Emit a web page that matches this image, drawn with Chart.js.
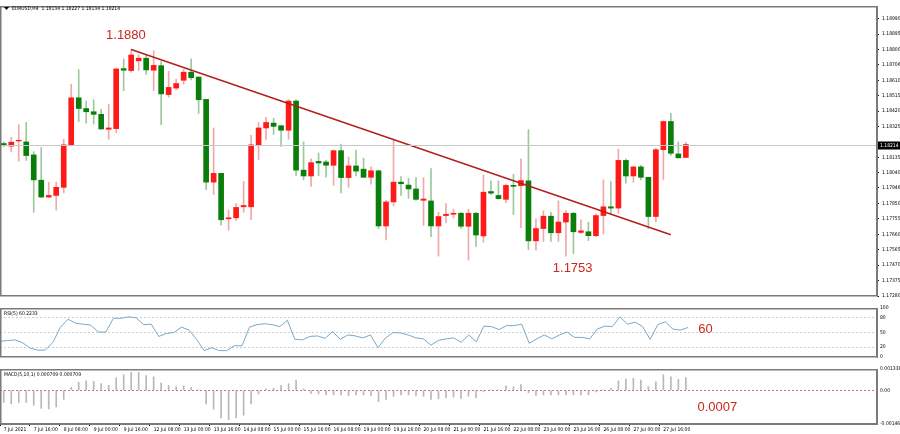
<!DOCTYPE html>
<html>
<head>
<meta charset="utf-8">
<script src="https://cdn.jsdelivr.net/npm/chart.js@4"></script>
<style>
  html, body { margin: 0; padding: 0; background: #fff; }
  #wrap { position: relative; width: 900px; height: 434px; }
  .pane { position: absolute; left: 0; width: 900px; }
</style>
</head>
<body>
<div id="wrap">
  <div class="pane" style="top:0;height:302px"><canvas id="main"></canvas></div>
  <div class="pane" style="top:302px;height:61px"><canvas id="rsi"></canvas></div>
  <div class="pane" style="top:363px;height:71px"><canvas id="macd"></canvas></div>
</div>
<script>
// EURUSD H4 candles
const openP = [1.18220,1.18204,1.18236,1.18230,1.18150,1.17994,1.17890,1.17900,1.17950,1.18212,
  1.18502,1.18436,1.18416,1.18400,1.18308,1.18312,1.18682,1.18670,1.18730,1.18746,
  1.18672,1.18700,1.18522,1.18562,1.18610,1.18660,1.18630,1.18492,1.17982,1.18036,
  1.17756,1.17762,1.17830,1.17830,1.18212,1.18316,1.18346,1.18330,1.18302,1.18482,
  1.18056,1.18020,1.18110,1.18106,1.18086,1.18176,1.18010,1.18082,1.18062,1.18012,
  1.18052,1.17712,1.17860,1.17982,1.17964,1.17940,1.17870,1.17866,1.17712,1.17776,
  1.17784,1.17790,1.17710,1.17790,1.17650,1.17924,1.17900,1.17876,1.17962,1.17960,
  1.17990,1.17620,1.17696,1.17772,1.17670,1.17736,1.17790,1.17672,1.17676,1.17652,
  1.17776,1.17830,1.17822,1.18116,1.18020,1.18076,1.18012,1.17770,1.18182,1.18356,
  1.18156,1.18134];
const highP = [1.18230,1.18258,1.18336,1.18350,1.18170,1.18196,1.17982,1.17982,1.18246,1.18586,
  1.18676,1.18482,1.18490,1.18432,1.18462,1.18684,1.18742,1.18800,1.18766,1.18766,
  1.18792,1.18726,1.18666,1.18616,1.18676,1.18742,1.18630,1.18492,1.18316,1.18036,
  1.17810,1.17850,1.17986,1.18270,1.18350,1.18382,1.18376,1.18330,1.18490,1.18490,
  1.18230,1.18126,1.18162,1.18116,1.18180,1.18216,1.18136,1.18180,1.18130,1.18076,
  1.18056,1.17870,1.18246,1.18016,1.18006,1.18010,1.18010,1.18066,1.17796,1.17850,
  1.17816,1.17796,1.17816,1.17796,1.18026,1.17990,1.17990,1.17970,1.18030,1.18126,
  1.18306,1.17756,1.17806,1.17796,1.17866,1.17806,1.17796,1.17750,1.17736,1.17786,
  1.17996,1.17986,1.18186,1.18126,1.18080,1.18086,1.18012,1.18190,1.18360,1.18406,
  1.18230,1.18227];
const lowP = [1.18200,1.18168,1.18110,1.18116,1.17796,1.17888,1.17886,1.17810,1.17916,1.18210,
  1.18356,1.18346,1.18340,1.18308,1.18246,1.18286,1.18546,1.18660,1.18670,1.18646,
  1.18546,1.18336,1.18506,1.18550,1.18586,1.18612,1.18406,1.17936,1.17906,1.17716,
  1.17686,1.17746,1.17796,1.17750,1.18122,1.18246,1.18276,1.18202,1.18246,1.18022,
  1.17996,1.17956,1.18022,1.18012,1.17962,1.17916,1.17950,1.18020,1.18010,1.17970,
  1.17696,1.17626,1.17836,1.17900,1.17882,1.17870,1.17716,1.17646,1.17526,1.17732,
  1.17762,1.17696,1.17502,1.17586,1.17612,1.17906,1.17876,1.17856,1.17782,1.17702,
  1.17566,1.17562,1.17616,1.17616,1.17616,1.17526,1.17542,1.17666,1.17622,1.17646,
  1.17662,1.17786,1.17790,1.17976,1.17982,1.17996,1.17696,1.17736,1.17996,1.18146,
  1.18130,1.18134];
const closeP = [1.18210,1.18228,1.18240,1.18146,1.17996,1.17890,1.17900,1.17950,1.18212,1.18502,
  1.18436,1.18416,1.18400,1.18310,1.18316,1.18680,1.18672,1.18766,1.18746,1.18674,
  1.18702,1.18526,1.18566,1.18590,1.18660,1.18626,1.18490,1.17982,1.18036,1.17750,
  1.17762,1.17826,1.17838,1.18212,1.18316,1.18350,1.18326,1.18302,1.18482,1.18056,
  1.18020,1.18102,1.18100,1.18086,1.18176,1.18010,1.18082,1.18050,1.18012,1.18052,
  1.17712,1.17860,1.17982,1.17972,1.17940,1.17876,1.17878,1.17712,1.17770,1.17784,
  1.17790,1.17710,1.17790,1.17656,1.17920,1.17914,1.17880,1.17962,1.17956,1.17992,
  1.17620,1.17696,1.17772,1.17670,1.17736,1.17790,1.17676,1.17682,1.17652,1.17776,
  1.17830,1.17822,1.18116,1.18020,1.18076,1.18012,1.17770,1.18182,1.18356,1.18160,
  1.18132,1.18214];

// RSI(5)
const rsi = [32,33.5,35,29,18,14,14,30,61,77,69,67,65,51,51,79,79,82,80,66,
  67,42,48,50,61,55,36,13,19,13,13,23,23,61,66,68,66,62,75,36,
  35,42,43,38,52,36,45,43,39,45,19,39,50,49,45,39,37,24,34,37,
  39,30,45,31,63,62,56,64,64,67,28,37,45,37,45,51,40,40,37,57,
  63,62,82,67,71,62,36,66,72,57,55,60.2233];

// MACD(5,10,1)
const macd = [-0.00067,-0.00075,-0.00067,-0.00067,-0.00083,-0.00100,-0.00103,-0.00092,-0.00050,0.00017,
  0.00045,0.00053,0.00050,0.00038,0.00028,0.00070,0.00087,0.00100,0.00100,0.00083,
  0.00075,0.00042,0.00028,0.00020,0.00025,0.00017,0.00003,-0.00075,-0.00105,-0.00153,
  -0.00163,-0.00153,-0.00138,-0.00075,-0.00020,0.00008,0.00012,0.00028,0.00037,0.00058,
  0.00008,-0.00017,-0.00020,-0.00025,-0.00025,-0.00025,-0.00030,-0.00025,-0.00025,-0.00030,
  -0.00062,-0.00050,-0.00033,-0.00025,-0.00025,-0.00030,-0.00033,-0.00050,-0.00047,-0.00042,
  -0.00037,-0.00045,-0.00033,-0.00042,-0.00008,0.00003,0.00003,0.00025,0.00020,0.00033,
  -0.00013,-0.00028,-0.00025,-0.00025,-0.00025,-0.00025,-0.00025,-0.00025,-0.00025,-0.00008,
  0.00003,0.00013,0.00053,0.00063,0.00067,0.00058,0.00020,0.00047,0.00087,0.00075,
  0.00062,0.000709];

// one label every 4 bars
const timeLabels = ["7 Jul 2021","7 Jul 16:00","8 Jul 08:00","9 Jul 00:00","9 Jul 16:00",
  "12 Jul 08:00","13 Jul 00:00","13 Jul 16:00","14 Jul 08:00","15 Jul 00:00","15 Jul 16:00",
  "16 Jul 08:00","19 Jul 00:00","19 Jul 16:00","20 Jul 08:00","21 Jul 00:00","21 Jul 16:00",
  "22 Jul 08:00","23 Jul 00:00","23 Jul 16:00","26 Jul 08:00","27 Jul 00:00","27 Jul 16:00"];

const priceTicks = [1.18990,1.18895,1.18800,1.18706,1.18610,1.18515,1.18420,1.18325,
  1.18135,1.18040,1.17946,1.17850,1.17755,1.17660,1.17565,1.17470,1.17375,1.17280];
const rsiLevels = [0, 20, 50, 80, 100];
const macdTicks = ['0.001338', '0.00', '-0.00146'];

// trend line from the 1.1880 top
const trendIdx = [17, 89];
const trendVal = [1.18800, 1.17658];

const SLOTS = 117;          // chart leaves empty space on the right
const FONT = "'DejaVu Sans Condensed', 'DejaVu Sans', sans-serif";
const RED_TXT = '#c8281e';

const n = openP.length;
const cats = [];
for (let i = 0; i < SLOTS; i++) cats.push(i < n && i % 4 === 0 ? timeLabels[i / 4] : '');
const pad = arr => arr.concat(new Array(SLOTS - arr.length).fill(null));

const up = closeP.map((c, i) => c >= openP[i]);
const bodies = pad(openP.map((o, i) => [o, closeP[i]]));
const wicks = pad(lowP.map((l, i) => [l, highP[i]]));
const trend = new Array(SLOTS).fill(null);
trendIdx.forEach((k, j) => trend[k] = trendVal[j]);

function fixWidth(scale) { scale.width = 23; }

const overlay = {
  id: 'overlay',
  afterDraw(chart, args, opts) {
    const ctx = chart.ctx, a = chart.chartArea;
    const xs = chart.scales.x, ys = chart.scales.y;
    ctx.save();
    if (opts.priceLine != null) {
      const y = Math.round(ys.getPixelForValue(opts.priceLine)) + 0.5;
      ctx.strokeStyle = '#c8c8c8'; ctx.lineWidth = 1;
      ctx.beginPath(); ctx.moveTo(a.left, y); ctx.lineTo(a.right, y); ctx.stroke();
      ctx.fillStyle = '#000'; ctx.fillRect(a.right + 1, y - 4, 22, 8);
      ctx.fillStyle = '#fff'; ctx.font = '5px ' + FONT;
      ctx.textBaseline = 'middle'; ctx.textAlign = 'left';
      ctx.fillText(opts.priceLine.toFixed(5), a.right + 3, y);
    }
    ctx.strokeStyle = '#7a7a7a'; ctx.lineWidth = 1.5;
    ctx.strokeRect(a.left + 0.75, a.top + 0.75, a.right - a.left - 1, a.bottom - a.top - 1);
    (opts.texts || []).forEach(t => {
      ctx.fillStyle = RED_TXT; ctx.font = '13px "Liberation Sans", Arial, sans-serif';
      ctx.textAlign = 'center'; ctx.textBaseline = 'middle';
      ctx.fillText(t.text, xs.getPixelForValue(t.i), ys.getPixelForValue(t.v));
    });
    if (opts.header) {
      ctx.fillStyle = '#000';
      ctx.beginPath(); ctx.moveTo(4, 7); ctx.lineTo(9, 7); ctx.lineTo(6.5, 10); ctx.fill();
      ctx.font = '5px ' + FONT; ctx.textAlign = 'left'; ctx.textBaseline = 'middle';
      ctx.fillText(opts.header, 12, 8.5);
    }
    if (opts.title) {
      ctx.fillStyle = '#000'; ctx.font = '5px ' + FONT;
      ctx.textAlign = 'left'; ctx.textBaseline = 'top';
      ctx.fillText(opts.title, a.left + 4, a.top + 3);
    }
    ctx.restore();
  }
};

const yTickStyle = { color: '#000', font: { size: 5, family: FONT }, padding: 3 };
const xHidden = { display: false, grid: { display: false } };
const baseOpts = {
  responsive: true, maintainAspectRatio: false, animation: false,
  events: [],
  layout: { padding: 0 },
  plugins: { legend: { display: false }, tooltip: { enabled: false } }
};

new Chart(document.getElementById('main'), {
  type: 'bar',
  data: {
    labels: cats,
    datasets: [
      { data: trend, type: 'line', spanGaps: true, borderColor: '#b51e1e', borderWidth: 1.5,
        pointRadius: 0, order: 0 },
      { data: bodies, backgroundColor: up.map(u => u ? '#ff1a1a' : '#0a7d0a'),
        barThickness: 5, grouped: false, order: 1, borderSkipped: false },
      { data: wicks, backgroundColor: up.map(u => u ? '#f0a8a8' : '#9cc89c'),
        barThickness: 1, grouped: false, order: 2 }
    ]
  },
  options: {
    ...baseOpts,
    layout: { padding: { top: 3, bottom: 1 } },
    plugins: { ...baseOpts.plugins,
      overlay: {
        priceLine: closeP[n - 1],
        header: 'EURUSD,H4  1.18134 1.18227 1.18134 1.18214',
        texts: [{ i: 16.3, v: 1.18888, text: '1.1880' }, { i: 75.9, v: 1.17448, text: '1.1753' }]
      }
    },
    scales: {
      x: xHidden,
      y: {
        position: 'right', min: 1.17280, max: 1.19068, afterFit: fixWidth,
        afterBuildTicks: s => { s.ticks = priceTicks.map(v => ({ value: v })); },
        ticks: { ...yTickStyle, callback: v => v.toFixed(5) },
        grid: { drawOnChartArea: false, tickLength: 2, color: '#000' },
        border: { color: '#7a7a7a' }
      }
    }
  },
  plugins: [overlay]
});

new Chart(document.getElementById('rsi'), {
  type: 'line',
  data: {
    labels: cats,
    datasets: [{ data: pad(rsi), borderColor: '#76a9cc', borderWidth: 1, pointRadius: 0, tension: 0 }]
  },
  options: {
    ...baseOpts,
    layout: { padding: { top: 1, bottom: 1 } },
    plugins: { ...baseOpts.plugins,
      overlay: { title: 'RSI(5) 60.2233', texts: [{ i: 93.3, v: 57, text: '60' }] }
    },
    scales: {
      x: xHidden,
      y: {
        position: 'right', min: 0, max: 100, afterFit: fixWidth,
        afterBuildTicks: s => { s.ticks = rsiLevels.map(v => ({ value: v })); },
        ticks: yTickStyle,
        grid: { color: c => (c.tick && (c.tick.value === 0 || c.tick.value === 100)) ? 'rgba(0,0,0,0)' : '#cfcfcf',
          drawTicks: false },
        border: { dash: [2, 2], color: '#7a7a7a' }
      }
    }
  },
  plugins: [overlay]
});

new Chart(document.getElementById('macd'), {
  type: 'bar',
  data: {
    labels: cats,
    datasets: [{ data: pad(macd), backgroundColor: '#b8b8b8', barThickness: 1 }]
  },
  options: {
    ...baseOpts,
    layout: { padding: 0 },
    plugins: { ...baseOpts.plugins,
      overlay: { title: 'MACD(5,10,1) 0.000709 0.000709', texts: [{ i: 95.2, v: -0.00092, text: '0.0007' }] }
    },
    scales: {
      x: {
        afterFit: s => { s.height = 10; },
        ticks: { color: '#000', font: { size: 5, family: FONT }, autoSkip: false, maxRotation: 0,
          padding: 1, align: 'start', callback: (v, i) => cats[i] },
        grid: { drawOnChartArea: false, tickLength: 2, color: c => cats[c.index] ? '#000' : 'rgba(0,0,0,0)' },
        border: { color: '#7a7a7a' }
      },
      y: {
        position: 'right', min: -0.00187, max: 0.00119, afterFit: fixWidth,
        afterBuildTicks: s => { s.ticks = [0.00119, 0, -0.00187].map(v => ({ value: v })); },
        ticks: { ...yTickStyle, callback: (v, i) => macdTicks[i] },
        grid: { color: c => c.tick && c.tick.value === 0 ? '#d96a6a' : 'rgba(0,0,0,0)', drawTicks: false },
        border: { dash: [2, 2], color: '#7a7a7a' }
      }
    }
  },
  plugins: [overlay]
});
</script>
</body>
</html>
